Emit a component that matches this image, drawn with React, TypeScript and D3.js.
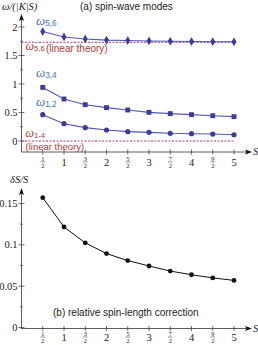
import React from "react";
import * as d3 from "d3";

const spins = [0.5, 1, 1.5, 2, 2.5, 3, 3.5, 4, 4.5, 5];
const spinLabels = ["1/2", "1", "3/2", "2", "5/2", "3", "7/2", "4", "9/2", "5"];

const omega56 = [1.92, 1.825, 1.79, 1.77, 1.762, 1.755, 1.75, 1.745, 1.742, 1.74];
const omega34 = [0.94, 0.737, 0.637, 0.585, 0.544, 0.503, 0.48, 0.462, 0.444, 0.427];
const omega12 = [0.462, 0.304, 0.234, 0.193, 0.164, 0.152, 0.135, 0.128, 0.122, 0.11];
const omega56Linear = Math.sqrt(3);
const omega14Linear = 0;

const deltaS = [0.157, 0.1216, 0.1024, 0.0894, 0.081, 0.0744, 0.0683, 0.0638, 0.06, 0.057];

const topTicks = [0, 0.5, 1, 1.5, 2];
const topMinor = [0.25, 0.75, 1.25, 1.75];
const botTicks = [0, 0.05, 0.1, 0.15];
const botMinor = [0.025, 0.075, 0.125];

const width = 258;
const height = 345;
const axisX = 21.5;

const x = d3.scaleLinear().domain([0, 5]).range([axisX, 234]);
const yTop = d3.scaleLinear().domain([0, 2]).range([141, 27]);
const yBot = d3.scaleLinear().domain([0, 0.15]).range([327.5, 203.5]);

const lineBlue = "#5656b4";
const markBlue = "#3c3c9c";
const labelBlue = "#4a74b4";
const red = "#b03a3a";
const dashRed = "#b4306c";
const serif = "'Liberation Serif', 'DejaVu Serif', serif";
const sans = "'Liberation Sans', Arial, sans-serif";

const TickLabel = ({ label, cx, cy }: { label: string; cx: number; cy: number }) => {
  if (label.includes("/")) {
    const [n, d] = label.split("/");
    return (
      <g fontFamily={serif} fontSize={6.5} textAnchor="middle" fill="#222">
        <text x={cx} y={cy - 1}>{n}</text>
        <line x1={cx - 2.3} x2={cx + 2.3} y1={cy} y2={cy} stroke="#222" strokeWidth={0.5} />
        <text x={cx} y={cy + 5.5}>{d}</text>
      </g>
    );
  }
  return (
    <text x={cx} y={cy + 3.5} fontFamily={serif} fontSize={10.5} textAnchor="middle" fill="#222">
      {label}
    </text>
  );
};

const XAxis = ({ yPos, off }: { yPos: number; off: number }) => (
  <g>
    <line x1={axisX} x2={248} y1={yPos} y2={yPos} stroke="#333" strokeWidth={0.8} />
    <path d={`M252,${yPos} L245,${yPos - 2.5} L246.5,${yPos} L245,${yPos + 2.5} Z`} fill="#111" />
    <text x={253} y={yPos + 3} fontFamily={serif} fontStyle="italic" fontSize={10.5} fill="#222">S</text>
    {spins.map((s, i) => (
      <g key={i}>
        <line x1={x(s)} x2={x(s)} y1={yPos - 2.5} y2={yPos + 2.5} stroke="#333" strokeWidth={0.7} />
        <TickLabel label={spinLabels[i]} cx={x(s)} cy={yPos + off} />
      </g>
    ))}
  </g>
);

const YAxis = ({
  y0, y1, scale, ticks, minor,
}: {
  y0: number; y1: number; scale: d3.ScaleLinear<number, number>; ticks: number[]; minor: number[];
}) => (
  <g>
    <line x1={axisX} x2={axisX} y1={y0} y2={y1 + 4} stroke="#333" strokeWidth={0.8} />
    <path d={`M${axisX},${y1} L${axisX - 2.5},${y1 + 7} L${axisX},${y1 + 5.5} L${axisX + 2.5},${y1 + 7} Z`} fill="#111" />
    {ticks.map((t) => (
      <g key={t}>
        <line x1={axisX - 3} x2={axisX + 3} y1={scale(t)} y2={scale(t)} stroke="#333" strokeWidth={0.7} />
        <text x={axisX - 4} y={scale(t) + 3.5} fontFamily={serif} fontSize={10.5} textAnchor="end" fill="#222">
          {String(t)}
        </text>
      </g>
    ))}
    {minor.map((t) => (
      <line key={t} x1={axisX - 1.5} x2={axisX + 1.5} y1={scale(t)} y2={scale(t)} stroke="#333" strokeWidth={0.6} />
    ))}
  </g>
);

const OmegaLabel = ({ px, py, sub, color, size = 13 }: { px: number; py: number; sub: string; color: string; size?: number }) => (
  <text x={px} y={py} fill={color}>
    <tspan fontFamily={serif} fontStyle="italic" fontSize={size}>ω</tspan>
    <tspan fontFamily={sans} fontSize={size * 0.64} dy={1}>{sub}</tspan>
  </text>
);

const diamond = d3.symbol().type(d3.symbolDiamond).size(22);
const square = d3.symbol().type(d3.symbolSquare).size(24);

export default function App() {
  const topLine = d3.line<number>().x((_, i) => x(spins[i])).y((d) => yTop(d));
  const botLine = d3.line<number>().x((_, i) => x(spins[i])).y((d) => yBot(d));

  return (
    <svg width={width} height={height} style={{ position: "absolute", left: 0, top: 0 }}>
      <rect width={width} height={height} fill="#fff" />

      {/* panel (a) */}
      <text x={2} y={10} fontFamily={serif} fontStyle="italic" fontSize={10.5} fill="#222">ω/(|K|S)</text>
      <text x={80} y={10} fontFamily={sans} fontSize={10} fill="#222">(a) spin-wave modes</text>
      <YAxis y0={152} y1={14} scale={yTop} ticks={topTicks} minor={topMinor} />
      <XAxis yPos={152} off={10} />

      <line x1={axisX} x2={x(5)} y1={yTop(omega56Linear)} y2={yTop(omega56Linear)} stroke={dashRed} strokeWidth={1} strokeDasharray="2,1.5" />
      <line x1={axisX} x2={x(5)} y1={yTop(omega14Linear)} y2={yTop(omega14Linear)} stroke={dashRed} strokeWidth={1} strokeDasharray="2,1.5" />

      <path d={topLine(omega56) ?? ""} fill="none" stroke={lineBlue} strokeWidth={1.1} />
      <path d={topLine(omega34) ?? ""} fill="none" stroke={lineBlue} strokeWidth={1.1} />
      <path d={topLine(omega12) ?? ""} fill="none" stroke={lineBlue} strokeWidth={1.1} />
      {omega56.map((v, i) => (
        <path key={"d" + i} d={diamond() ?? ""} transform={`translate(${x(spins[i])},${yTop(v)})`} fill={markBlue} />
      ))}
      {omega34.map((v, i) => (
        <path key={"s" + i} d={square() ?? ""} transform={`translate(${x(spins[i])},${yTop(v)})`} fill={markBlue} />
      ))}
      {omega12.map((v, i) => (
        <circle key={"c" + i} cx={x(spins[i])} cy={yTop(v)} r={2.6} fill={markBlue} />
      ))}

      <OmegaLabel px={36} py={24.5} sub="5,6" color={labelBlue} />
      <OmegaLabel px={25.5} py={50} sub="5,6" color={red} size={12} />
      <text x={46} y={51.5} fontFamily={sans} fontSize={10} fill={red}>(linear theory)</text>
      <OmegaLabel px={36} py={77} sub="3,4" color={labelBlue} />
      <OmegaLabel px={36} py={106} sub="1,2" color={labelBlue} />
      <OmegaLabel px={25.5} py={136.5} sub="1-4" color={red} size={12} />
      <text x={25.5} y={149.5} fontFamily={sans} fontSize={9.5} fill={red}>(linear theory)</text>

      {/* panel (b) */}
      <text x={10} y={183} fontFamily={serif} fontStyle="italic" fontSize={10.5} fill="#222">δS/S</text>
      <YAxis y0={329} y1={188} scale={yBot} ticks={botTicks} minor={botMinor} />
      <XAxis yPos={328.5} off={8.5} />
      <path d={botLine(deltaS) ?? ""} fill="none" stroke="#111" strokeWidth={1} />
      {deltaS.map((v, i) => (
        <circle key={"b" + i} cx={x(spins[i])} cy={yBot(v)} r={2.4} fill="#111" />
      ))}
      <text x={53} y={316} fontFamily={sans} fontSize={10} fill="#222">(b) relative spin-length correction</text>
    </svg>
  );
}
